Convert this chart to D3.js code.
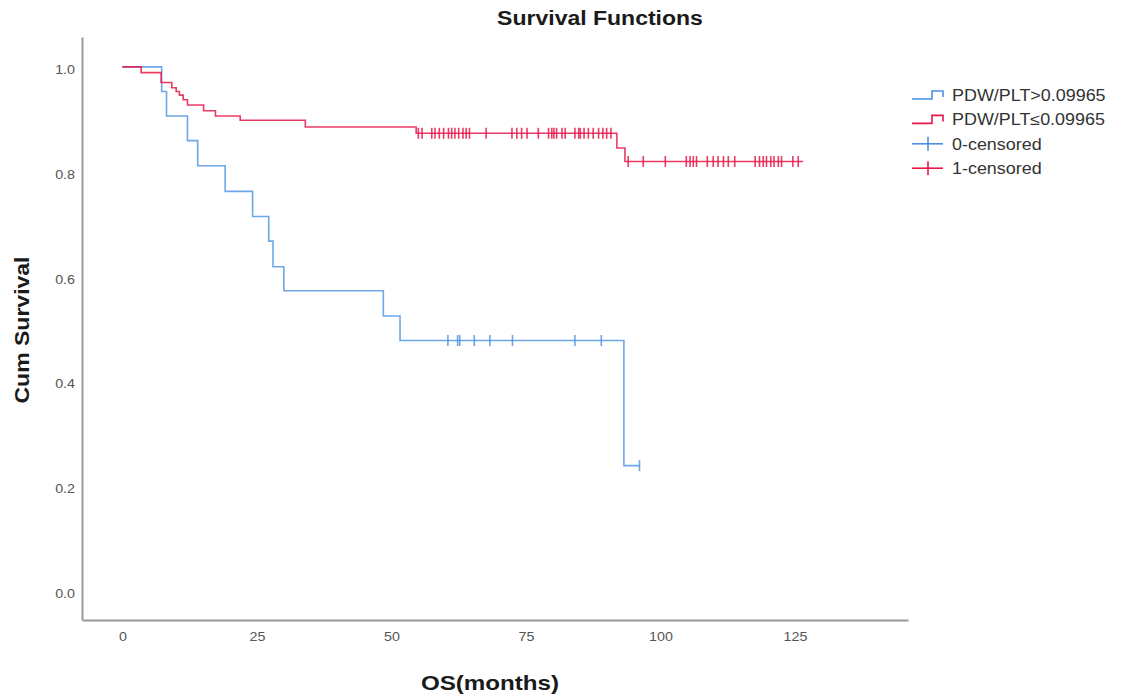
<!DOCTYPE html>
<html>
<head>
<meta charset="utf-8">
<script src="https://cdn.jsdelivr.net/npm/d3@7.9.0/dist/d3.min.js"></script>
<style>
  html, body { margin: 0; padding: 0; background: #fff; }
  svg { display: block; font-family: 'Liberation Sans', Arial, sans-serif; }
</style>
</head>
<body>
<svg id="chart" width="1124" height="698"></svg>
<script>
// Kaplan-Meier steps (months, cumulative survival)
const highTimes = [0, 7.3, 8.2, 12.1, 14.0, 19.1, 24.2, 27.2, 28.0, 30.0, 48.5, 51.6, 93.2];
const highSurv = [1.0, 0.953, 0.906, 0.859, 0.811, 0.762, 0.714, 0.667, 0.618, 0.572, 0.524, 0.477, 0.238];
const highEnd = 96.1;
const highCensored = [60.5, 62.3, 62.7, 65.4, 68.3, 72.5, 84.1, 89.0, 96.1];

const lowTimes = [0, 3.5, 7.2, 9.2, 10.0, 10.6, 11.3, 12.1, 15.1, 17.3, 21.9, 34.0, 54.6, 91.9, 93.4];
const lowSurv = [1.0, 0.989, 0.970, 0.960, 0.953, 0.946, 0.937, 0.927, 0.916, 0.906, 0.898, 0.885, 0.873, 0.845, 0.819];
const lowEnd = 126.5;
const lowCensored = [55.0, 55.7, 57.5, 58.1, 58.9, 59.7, 60.6, 61.2, 61.8, 62.5, 63.3, 63.9, 64.5, 67.6,
  72.4, 73.3, 74.2, 75.2, 77.3, 79.2, 79.8, 80.2, 80.7, 81.7, 82.3, 84.1, 84.8, 85.1, 85.8, 86.6,
  87.5, 88.5, 89.3, 90.0, 90.8, 94.0, 96.8, 100.9, 104.8, 105.5, 106.1, 106.7, 108.7, 109.8, 110.7,
  111.7, 112.6, 113.8, 117.6, 118.4, 119.1, 119.7, 120.5, 121.1, 121.9, 122.5, 124.6, 125.6];

const xTicks = [0, 25, 50, 75, 100, 125];
const yTicks = [0, 0.2, 0.4, 0.6, 0.8, 1.0];
const legendLabels = ['PDW/PLT>0.09965', 'PDW/PLT\u22640.09965', '0-censored', '1-censored'];

const BLUE = '#4a90e2';
const RED = '#e8174a';
const STRETCH = 1.15; // the source text is drawn a bit wide

const svg = d3.select('#chart');

const x = d3.scaleLinear().domain([-7.5, 146]).range([82, 908]);
const y = d3.scaleLinear().domain([-0.057, 1.057]).range([620, 37]);

function widen(sel, k = STRETCH) {
  sel.each(function () {
    const w = this.getComputedTextLength();
    d3.select(this).attr('textLength', w * k).attr('lengthAdjust', 'spacingAndGlyphs');
  });
}

// axes (lines only, no tick marks)
const xAxis = svg.append('g')
  .attr('transform', `translate(0,${y.range()[0]})`)
  .call(d3.axisBottom(x).tickValues(xTicks).tickSize(0).tickPadding(12).tickFormat(d3.format('d')));
const yAxis = svg.append('g')
  .attr('transform', `translate(${x.range()[0]},0)`)
  .call(d3.axisLeft(y).tickValues(yTicks).tickSize(0).tickPadding(7).tickFormat(d3.format('.1f')));

[xAxis, yAxis].forEach(g => {
  g.select('.domain').attr('stroke', '#999').attr('stroke-width', 2);
  g.selectAll('text')
    .attr('fill', '#555')
    .style('font-size', '13px')
    .style('font-family', "'Liberation Sans', Arial, sans-serif")
    .call(widen, 1.1);
});
yAxis.selectAll('text').attr('dy', '0.55em');

// survival step curves
const stepLine = d3.line()
  .x(d => x(d[0]))
  .y(d => y(d[1]))
  .curve(d3.curveStepAfter);

function survAt(times, surv, t) {
  return surv[d3.bisectRight(times, t) - 1];
}

function drawGroup(times, surv, end, censored, color, opacity) {
  const pts = times.map((t, i) => [t, surv[i]]);
  pts.push([end, surv[surv.length - 1]]);
  const g = svg.append('g');
  g.append('path')
    .attr('d', stepLine(pts))
    .attr('fill', 'none')
    .attr('stroke', color)
    .attr('stroke-width', 1.6)
    .attr('stroke-opacity', opacity);
  g.selectAll('line.cens')
    .data(censored)
    .join('line')
    .attr('class', 'cens')
    .attr('x1', d => x(d))
    .attr('x2', d => x(d))
    .attr('y1', d => y(survAt(times, surv, d)) - 5.5)
    .attr('y2', d => y(survAt(times, surv, d)) + 5.5)
    .attr('stroke', color)
    .attr('stroke-width', 1.6)
    .attr('stroke-opacity', opacity);
}

drawGroup(highTimes, highSurv, highEnd, highCensored, BLUE, 0.8);
drawGroup(lowTimes, lowSurv, lowEnd, lowCensored, RED, 0.85);

// title and axis titles
svg.append('text')
  .attr('x', 600).attr('y', 25)
  .attr('text-anchor', 'middle')
  .style('font-size', '20px').style('font-weight', 'bold')
  .attr('fill', '#1a1a1a')
  .text('Survival Functions')
  .call(widen);

svg.append('text')
  .attr('x', 490).attr('y', 690)
  .attr('text-anchor', 'middle')
  .style('font-size', '21px').style('font-weight', 'bold')
  .attr('fill', '#1a1a1a')
  .text('OS(months)')
  .call(widen);

svg.append('text')
  .attr('transform', 'translate(29,330) rotate(-90)')
  .attr('text-anchor', 'middle')
  .style('font-size', '20px').style('font-weight', 'bold')
  .attr('fill', '#1a1a1a')
  .text('Cum Survival')
  .call(widen);

// legend
const legend = svg.append('g').attr('transform', 'translate(912,95)');
const rowH = 24.4;
const legendColors = [BLUE, RED, BLUE, RED];

legendLabels.forEach((label, i) => {
  const row = legend.append('g').attr('transform', `translate(0,${i * rowH})`);
  const c = legendColors[i];
  if (i < 2) {
    row.append('path')
      .attr('d', 'M0,4 H20 V-4 H31 V2')
      .attr('fill', 'none')
      .attr('stroke', c)
      .attr('stroke-width', 1.6);
  } else {
    row.append('line').attr('x1', 0).attr('x2', 31).attr('y1', 0).attr('y2', 0)
      .attr('stroke', c).attr('stroke-width', 1.6);
    row.append('line').attr('x1', 16).attr('x2', 16).attr('y1', -7).attr('y2', 7)
      .attr('stroke', c).attr('stroke-width', 1.6);
  }
  row.append('text')
    .attr('x', 40).attr('y', 0).attr('dy', '0.36em')
    .style('font-size', '16px')
    .attr('fill', '#333')
    .text(label)
    .call(widen, 1.12);
});
</script>
</body>
</html>
